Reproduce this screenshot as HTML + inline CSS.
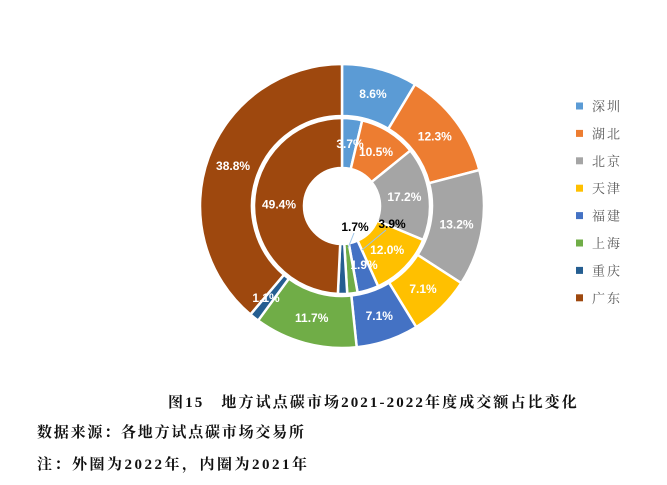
<!DOCTYPE html>
<html><head><meta charset="utf-8">
<style>
html,body{margin:0;padding:0;background:#fff;}
body{width:667px;height:485px;overflow:hidden;position:relative;font-family:"Liberation Serif","Noto Serif CJK SC",serif;}
.t{position:absolute;font-weight:bold;font-size:15px;color:#111;white-space:nowrap;letter-spacing:1.8px;}
</style></head><body>
<svg id="s" width="667" height="485" style="position:absolute;left:0;top:0"></svg>
<div class="t" style="left:168px;top:391px;letter-spacing:2.1px">图15　地方试点碳市场2021-2022年度成交额占比变化</div>
<div class="t" style="left:37px;top:421px">数据来源：各地方试点碳市场交易所</div>
<div class="t" style="left:37px;top:453px;letter-spacing:2.5px">注：外圈为2022年，内圈为2021年</div>
<script>
var cx=342,cy=206;
var cols=["#5B9BD5","#ED7D31","#A5A5A5","#FFC000","#4472C4","#70AD47","#255E91","#9E480E"];
var names=["深圳","湖北","北京","天津","福建","上海","重庆","广东"];
var outer=[8.6,12.3,13.2,7.1,7.1,11.7,1.1,38.8];
var inner=[3.7,10.5,17.2,12.0,3.9,1.9,1.7,49.4];
var s="";
function pt(r,a){return [cx+r*Math.sin(a),cy-r*Math.cos(a)];}
function ring(d,r0,r1,lr){
 var tot=d.reduce(function(a,b){return a+b},0),a=0,out=[];
 d.forEach(function(v,i){
  var a1=a+v/tot*2*Math.PI;
  var p1=pt(r1,a),p2=pt(r1,a1),p3=pt(r0,a1),p4=pt(r0,a),lg=(a1-a)>Math.PI?1:0;
  s+='<path d="M'+p1+' A'+r1+','+r1+' 0 '+lg+' 1 '+p2+' L'+p3+' A'+r0+','+r0+' 0 '+lg+' 0 '+p4+'Z" fill="'+cols[i]+'" stroke="#fff" stroke-width="2.5"/>';
  out.push(pt(lr,(a+a1)/2));
  a=a1;
 });
 return out;
}
var po=ring(outer,90,142,116);
var pi=ring(inner,38,88,63);
function lab(x,y,t,c){s+='<text x="'+x+'" y="'+(y+4)+'" text-anchor="middle" font-family="Liberation Sans,sans-serif" font-weight="bold" font-size="12" fill="'+(c||"#fff")+'">'+t+'</text>';}
outer.forEach(function(v,i){var p=po[i];if(i==6)p=[266,298];lab(p[0],p[1],v.toFixed(1)+"%");});
inner.forEach(function(v,i){var p=pi[i];
 if(i==0)p=[350,144]; if(i==1)p=[376,152];
 if(i==4){p=[392,224];lab(p[0],p[1],"3.9%","#000");return;}
 if(i==6){p=[355,227];lab(p[0],p[1],"1.7%","#000");return;}
 if(i==5)p=[364,265];
 lab(p[0],p[1],v.toFixed(1)+"%");});
s+='<line x1="354" y1="233" x2="348" y2="248" stroke="#9dc3e6" stroke-width="1"/><line x1="386" y1="230" x2="362" y2="250" stroke="#9dc3e6" stroke-width="1"/>';
names.forEach(function(n,i){var y=106+i*27.4;
 s+='<rect x="576" y="'+(y-3.5)+'" width="7" height="7" fill="'+cols[i]+'"/>';
 s+='<text x="592" y="'+(y+5)+'" font-family="Noto Serif CJK SC,serif" font-size="13" fill="#595959" letter-spacing="2">'+n+'</text>';});
document.getElementById("s").innerHTML=s;
</script>
</body></html>
